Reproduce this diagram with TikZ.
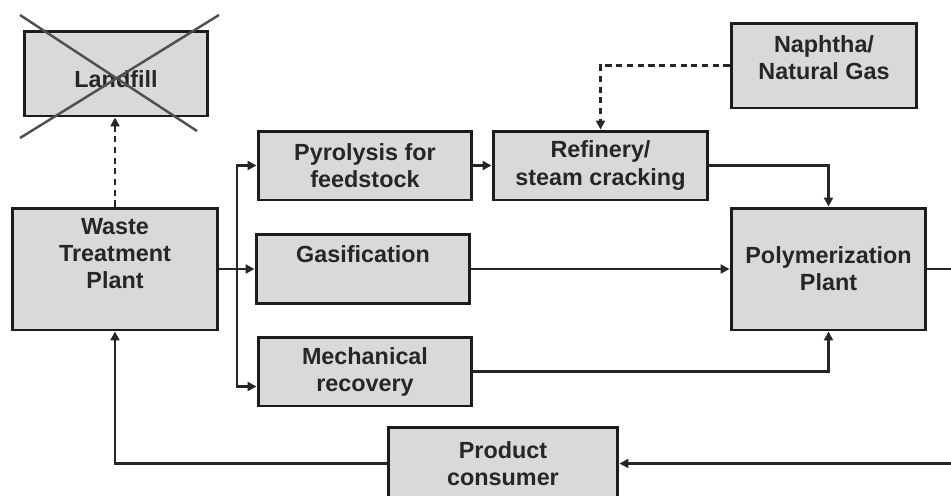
\documentclass[tikz,border=0pt]{standalone}
\usepackage{fontspec}
\setmainfont{Liberation Sans}
\usetikzlibrary{arrows.meta,calc}
\definecolor{boxfill}{RGB}{217,217,217}
\definecolor{boxline}{RGB}{28,28,28}
\definecolor{crossline}{RGB}{80,80,80}
\tikzset{
  boxtext/.style={text=black!85, font=\fontsize{13.3}{15.4}\selectfont\bfseries, align=center},
  box/.style={boxtext, draw=boxline, line width=1.7pt, fill=boxfill, inner sep=0pt},
  flow/.style={draw=black!85, line width=1.4pt, -{Triangle[length=0.18cm,width=0.18cm]}},
  feed/.style={flow, dash pattern=on 3.5pt off 2.6pt},
  cross/.style={draw=crossline, line width=1.4pt}
}

\begin{document}
\begin{tikzpicture}[x=0.02cm, y=-0.02cm]
	%%%%% START %%%%%
	\useasboundingbox (0,0) rectangle (951,495);
	\clip (0,0) rectangle (951,495);

	\node[box, minimum width=3.68cm, minimum height=1.70cm, label={[boxtext,yshift=-0.11cm]center:Landfill}] (landfill) at (116,73.5) {};
	\draw[cross] (20,15) -- (197,131);
	\draw[cross] (219,15) -- (20,138);

	\node[box, minimum width=4.12cm, minimum height=2.44cm, label={[boxtext,yshift=0.3cm]center:{Waste\\Treatment\\Plant}}] (waste) at (115,269) {};

	\node[box, minimum width=4.28cm, minimum height=1.38cm] (pyro) at (365,165.5) {Pyrolysis for\\feedstock};
	\node[box, minimum width=4.28cm, minimum height=1.38cm, label={[boxtext,yshift=0.29cm]center:Gasification}] (gasif) at (363,269) {};
	\node[box, minimum width=4.28cm, minimum height=1.38cm] (mech) at (365,371.5) {Mechanical\\recovery};

	\node[box, minimum width=4.30cm, minimum height=1.38cm] (refinery) at (600.5,165.5) {Refinery/\\steam cracking};
	\node[box, minimum width=3.72cm, minimum height=1.70cm, label={[boxtext,yshift=0.16cm]center:{Naphtha/\\Natural Gas}}] (naphtha) at (824,65.5) {};
	\node[box, minimum width=3.90cm, minimum height=2.44cm] (poly) at (828.5,269) {Polymerization\\Plant};

	\node[box, minimum width=4.60cm, minimum height=1.46cm] (product) at (503,463.5) {Product\\consumer};

	\coordinate (split) at (237,269);
	\coordinate (loop) at (985,269);

	% waste routes
	\draw[feed] (waste.north) -- (waste.north |- landfill.south);
	\draw[flow] (waste.east) -- (gasif.west);
	\draw[flow] (split) |- (pyro.west);
	\draw[flow] (split) |- ([yshift=-0.3cm]mech.west);

	% feedstock to polymer
	\draw[flow] (pyro.east) -- (refinery.west);
	\draw[feed] (naphtha.west) -| (refinery.north);
	\draw[flow] (refinery.east) -| (poly.north);
	\draw[flow] (gasif.east) -- (poly.west);
	\draw[flow] (mech.east) -| (poly.south);

	% back to consumer
	\draw[flow] (poly.east) -- (loop) |- (product.east);
	\draw[flow] (product.west) -| (waste.south);
	%%%%% END %%%%%
\end{tikzpicture}
\end{document}
